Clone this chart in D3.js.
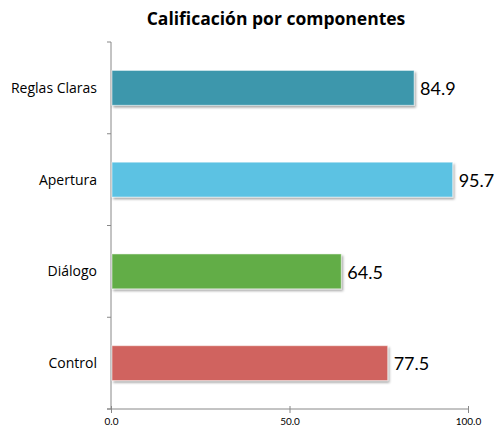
<!DOCTYPE html>
<html>
<head>
  <meta charset="utf-8">
  <title>Calificación por componentes</title>
  <script src="https://d3js.org/d3.v7.min.js"></script>
  <style>
    body { margin: 0; background: #fff; font-family: Lato, 'Open Sans', sans-serif; }
  </style>
</head>
<body>
  <div id="chart"></div>
  <script>
    const categories = ["Reglas Claras", "Apertura", "Diálogo", "Control"];
    const values = [84.9, 95.7, 64.5, 77.5];
    const colors = ["#3c97ac", "#5bc2e3", "#62ad47", "#d0645e"];
    const tickValues = [0, 50, 100];

    const width = 497, height = 433;
    const margin = { top: 42, right: 29, bottom: 24, left: 111 };

    const svg = d3.select("#chart").append("svg")
      .attr("width", width)
      .attr("height", height);

    const defs = svg.append("defs");
    const shadow = defs.append("filter").attr("id", "shadow")
      .attr("x", "-5%").attr("y", "-20%").attr("width", "115%").attr("height", "150%");
    shadow.append("feDropShadow")
      .attr("dx", 1.5).attr("dy", 2).attr("stdDeviation", 1.2)
      .attr("flood-color", "#000").attr("flood-opacity", 0.35);

    const x = d3.scaleLinear()
      .domain([0, 100])
      .range([margin.left, width - margin.right]);

    const y = d3.scaleBand()
      .domain(categories)
      .range([margin.top, height - margin.bottom])
      .paddingInner(0.62)
      .paddingOuter(0.31);

    svg.append("text")
      .attr("x", 276)
      .attr("y", 25)
      .attr("text-anchor", "middle")
      .style("font-family", "'Open Sans', sans-serif")
      .style("font-size", "17.5px")
      .style("font-weight", "bold")
      .text("Calificación por componentes");

    // bottom axis
    const xAxis = svg.append("g")
      .attr("transform", `translate(0,${height - margin.bottom})`)
      .call(d3.axisBottom(x).tickValues(tickValues).tickSize(4).tickFormat(d3.format(".1f")));
    xAxis.select(".domain").attr("stroke", "#888").attr("d", `M${margin.left - 4},0H${width - margin.right}`);
    xAxis.selectAll(".tick line").attr("stroke", "#888").attr("y1", -3).attr("y2", 4);
    xAxis.selectAll(".tick text")
      .attr("dy", "0.9em")
      .style("font-size", "10px")
      .style("font-family", "Lato, 'Open Sans', sans-serif")
      .attr("fill", "#000");

    // left axis line with boundary ticks
    const boundaries = categories.map(c => y(c) - y.step() * y.paddingInner() / 2);
    boundaries.push(height - margin.bottom);
    svg.append("line")
      .attr("x1", margin.left).attr("x2", margin.left)
      .attr("y1", margin.top).attr("y2", height - margin.bottom)
      .attr("stroke", "#888");
    svg.selectAll(".ytick")
      .data(boundaries)
      .enter().append("line")
      .attr("x1", margin.left - 4).attr("x2", margin.left)
      .attr("y1", d => d).attr("y2", d => d)
      .attr("stroke", "#888");

    // category labels
    svg.selectAll(".cat")
      .data(categories)
      .enter().append("text")
      .attr("x", margin.left - 14)
      .attr("y", d => y(d) + y.bandwidth() / 2)
      .attr("dy", "0.35em")
      .attr("text-anchor", "end")
      .style("font-family", "'Open Sans', sans-serif")
      .style("font-size", "14px")
      .text(d => d);

    // bars
    svg.selectAll(".bar")
      .data(values)
      .enter().append("rect")
      .attr("x", x(0) + 1)
      .attr("y", (d, i) => y(categories[i]))
      .attr("width", d => x(d) - x(0) - 1)
      .attr("height", y.bandwidth())
      .attr("fill", (d, i) => colors[i])
      .attr("stroke", "#fff")
      .attr("stroke-opacity", 0.5)
      .attr("stroke-width", 1)
      .attr("filter", "url(#shadow)");

    // value labels
    svg.selectAll(".val")
      .data(values)
      .enter().append("text")
      .attr("x", d => x(d) + 6)
      .attr("y", (d, i) => y(categories[i]) + y.bandwidth() / 2)
      .attr("dy", "0.4em")
      .style("font-size", "18px")
      .text(d => d.toFixed(1));
  </script>
</body>
</html>
